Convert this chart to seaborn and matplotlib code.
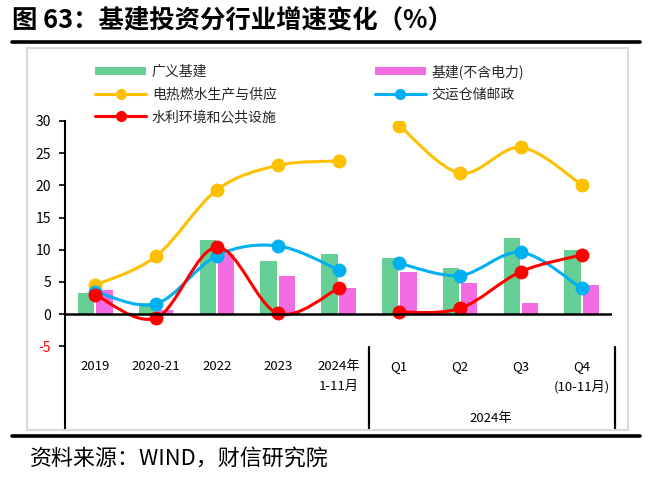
import matplotlib
matplotlib.use("Agg")
import matplotlib.pyplot as plt
import seaborn as sns
import pandas as pd
import numpy as np
from matplotlib.path import Path
from matplotlib.patches import PathPatch, Patch, Rectangle
from matplotlib.lines import Line2D
import matplotlib.transforms as mtransforms

categories = ["2019", "2020-21", "2022", "2023", "2024年\n1-11月", "Q1", "Q2", "Q3", "Q4\n(10-11月)"]
broad_infra = [3.3, 1.8, 11.5, 8.2, 9.4, 8.7, 7.1, 11.9, 9.9]
infra_ex_power = [3.7, 0.6, 9.4, 5.9, 4.1, 6.5, 4.8, 1.8, 4.5]
power_heat_gas_water = [4.5, 9.0, 19.3, 23.1, 23.8, 29.3, 21.9, 25.9, 20.1]
transport_storage = [3.5, 1.6, 9.1, 10.6, 6.9, 7.9, 6.0, 9.6, 4.0]
water_env_public = [3.0, -0.6, 10.4, 0.1, 4.0, 0.3, 0.9, 6.6, 9.2]
yticks = [-5, 0, 5, 10, 15, 20, 25, 30]
group_label = "2024年"

sns.set_theme(style="white")
plt.rcParams['font.family'] = ['Noto Sans CJK SC', 'DejaVu Sans']
plt.rcParams['axes.unicode_minus'] = False

GREEN = "#66CF95"
PINK = "#F26CE2"
YELLOW = "#FFC000"
BLUE = "#00B0F0"
RED = "#FF0000"

fig = plt.figure(figsize=(6.54, 4.87), dpi=100)
W, H = 654, 487

def fx(px):
    return px / W

def fy(py):
    return 1 - py / H

# title and rules
fig.text(fx(12), fy(21), "图 63：基建投资分行业增速变化（%）", fontsize=18.3, fontweight="bold",
         ha="left", va="center", color="black")
fig.add_artist(Line2D([fx(12), fx(640)], [fy(42), fy(42)], color="black", lw=2.6))
fig.add_artist(Line2D([fx(12), fx(640)], [fy(436), fy(436)], color="black", lw=2.6))
fig.add_artist(Rectangle((fx(27), fy(430)), fx(628) - fx(27), fy(48) - fy(430),
                         fill=False, edgecolor="#D9D9D9", lw=1.5))
fig.text(fx(30), fy(459), "资料来源：WIND，财信研究院", fontsize=15.8, style="italic",
         ha="left", va="center", color="black")

ax = fig.add_axes([fx(65), fy(430), fx(612) - fx(65), fy(121) - fy(430)])

df = pd.DataFrame({
    "cat": categories * 2,
    "val": broad_infra + infra_ex_power,
    "series": ["广义基建"] * len(categories) + ["基建(不含电力)"] * len(categories),
})
sns.barplot(data=df, x="cat", y="val", hue="series", order=categories,
            palette=[GREEN, PINK], width=0.6, gap=0.1, ax=ax, legend=False,
            saturation=1, edgecolor="none")

def smooth_path(xs, ys):
    pts = np.column_stack([xs, ys]).astype(float)
    n = len(pts)
    verts = [pts[0]]
    codes = [Path.MOVETO]
    for i in range(n - 1):
        p0 = pts[i - 1] if i > 0 else pts[i]
        p1 = pts[i]
        p2 = pts[i + 1]
        p3 = pts[i + 2] if i + 2 < n else pts[i + 1]
        c1 = p1 + (p2 - p0) / 6.0
        c2 = p2 - (p3 - p1) / 6.0
        verts += [c1, c2, p2]
        codes += [Path.CURVE4] * 3
    return Path(verts, codes)

xpos = np.arange(len(categories))
segments = [(0, 5), (5, 9)]
for vals, col in [(power_heat_gas_water, YELLOW), (transport_storage, BLUE), (water_env_public, RED)]:
    for a, b in segments:
        p = smooth_path(xpos[a:b], vals[a:b])
        ax.add_patch(PathPatch(p, facecolor="none", edgecolor=col, lw=2.2, zorder=3))
    ax.plot(xpos, vals, linestyle="none", marker="o", markersize=9, color=col,
            markeredgecolor=col, zorder=4)

ax.set_xlim(-0.5, len(categories) - 0.5)
ax.set_ylim(-18, 30)
ax.set_yticks(yticks)
ax.set_yticklabels([str(t) for t in yticks], fontsize=10)
for lab, t in zip(ax.get_yticklabels(), yticks):
    lab.set_color(RED if t < 0 else "black")
ax.tick_params(axis="y", direction="out", length=4, width=1.2, color="black", pad=6, left=True)
ax.set_xticks([])
ax.set_xlabel("")
ax.set_ylabel("")
for s in ["top", "right", "bottom"]:
    ax.spines[s].set_visible(False)
ax.spines["left"].set_color("black")
ax.spines["left"].set_linewidth(1.5)
ax.axhline(0, color="black", lw=1.8, zorder=5)

trans = mtransforms.blended_transform_factory(ax.transData, ax.transAxes)
for i, c in enumerate(categories):
    ax.text(i, 0.228, c, transform=trans, ha="center", va="top", fontsize=9.5,
            linespacing=1.75, color="black")
ax.text(6.5, 0.036, group_label, transform=trans, ha="center", va="center", fontsize=9.5, color="black")
for xv in [4.5, 8.55]:
    ax.plot([xv, xv], [0, 0.269], transform=trans, color="black", lw=1.6, clip_on=False)

handles = [
    Patch(facecolor=GREEN, edgecolor="none"),
    Line2D([], [], color=YELLOW, lw=2.2, marker="o", markersize=7),
    Line2D([], [], color=RED, lw=2.2, marker="o", markersize=7),
    Patch(facecolor=PINK, edgecolor="none"),
    Line2D([], [], color=BLUE, lw=2.2, marker="o", markersize=7),
]
labels = ["广义基建", "电热燃水生产与供应", "水利环境和公共设施", "基建(不含电力)", "交运仓储邮政"]
fig.legend(handles, labels, loc="upper left", bbox_to_anchor=(fx(95), fy(64)), ncol=2,
           frameon=False, fontsize=10, handlelength=3.7, handleheight=0.6, handletextpad=0.4,
           columnspacing=7.05, labelspacing=0.62, borderpad=0, borderaxespad=0)

fig.savefig("out.png", dpi=100)
